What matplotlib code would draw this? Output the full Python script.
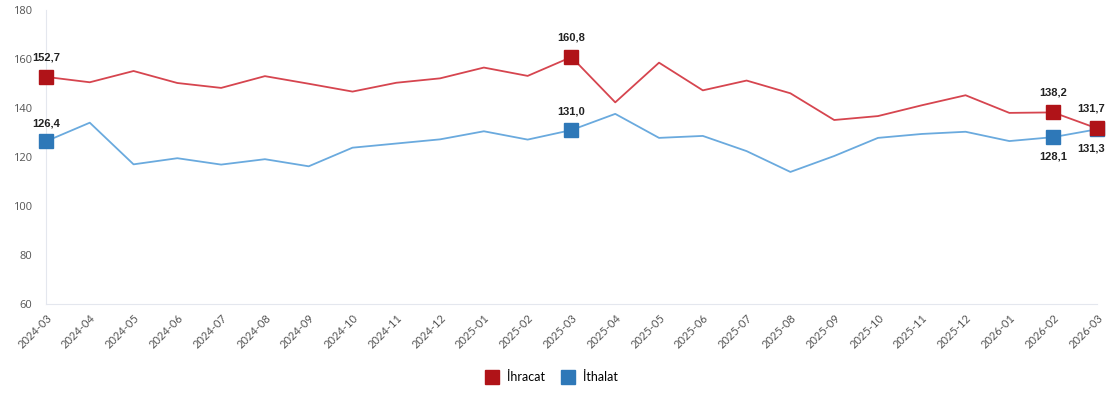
import matplotlib.pyplot as plt
import numpy as np

months = ['2024-03', '2024-04', '2024-05', '2024-06', '2024-07', '2024-08', '2024-09',
          '2024-10', '2024-11', '2024-12', '2025-01', '2025-02', '2025-03', '2025-04',
          '2025-05', '2025-06', '2025-07', '2025-08', '2025-09', '2025-10', '2025-11',
          '2025-12', '2026-01', '2026-02', '2026-03']
ihracat = [152.7, 150.5, 155.1, 150.2, 148.2, 153.0, 149.9, 146.7, 150.3, 152.1,
           156.5, 153.1, 160.8, 142.3, 158.5, 147.2, 151.2, 146.0, 135.1, 136.7,
           141.1, 145.2, 138.0, 138.2, 131.7]
ithalat = [126.4, 134.0, 117.0, 119.5, 116.9, 119.1, 116.2, 123.8, 125.5, 127.2,
           130.5, 127.1, 131.0, 137.6, 127.8, 128.6, 122.4, 113.9, 120.4, 127.8,
           129.4, 130.3, 126.5, 128.1, 131.3]
# points that get a marker and a value label
marked = [0, 12, 23, 24]

red_line, red_mark = '#d6454f', '#b01318'
blue_line, blue_mark = '#6aaade', '#2e78b8'

fig = plt.figure(figsize=(11.08, 3.95), dpi=100)
ax = fig.add_axes([0.0415, 0.2304, 0.9485, 0.7443])
x = np.arange(len(months))

ax.plot(x, ithalat, color=blue_line, lw=1.3, zorder=2)
ax.plot(x, ihracat, color=red_line, lw=1.3, zorder=2)
ax.plot(x[marked], np.array(ithalat)[marked], ls='none', marker='s', ms=9.5,
        color=blue_mark, zorder=3, clip_on=False)
ax.plot(x[marked], np.array(ihracat)[marked], ls='none', marker='s', ms=9.5,
        color=red_mark, zorder=4, clip_on=False)

def fmt(v):
    return f'{v:.1f}'.replace('.', ',')

for i in marked:
    dx = -4 if i == 24 else 0
    ax.annotate(fmt(ihracat[i]), (x[i], ihracat[i]), xytext=(dx, 14), textcoords='offset points',
                ha='center', va='center', fontsize=8, fontweight='bold', color='#222222',
                family='Liberation Sans', annotation_clip=False)
    below = i in (23, 24)
    ax.annotate(fmt(ithalat[i]), (x[i], ithalat[i]), xytext=(dx, -14 if below else 13),
                textcoords='offset points', ha='center', va='center', fontsize=8,
                fontweight='bold', color='#222222', family='Liberation Sans',
                annotation_clip=False)

ax.set_xlim(0, len(months) - 1)
ax.set_ylim(60, 180)
ax.set_yticks(range(60, 181, 20))
ax.set_xticks(x)
ax.set_xticklabels(months, rotation=45, ha='right', rotation_mode='anchor',
                   fontsize=8, color='#555555', family='Lato')
ax.tick_params(axis='y', labelsize=8, labelcolor='#555555', length=0, pad=10)
ax.tick_params(axis='x', length=0, pad=6)
for lab in ax.get_yticklabels():
    lab.set_family('Open Sans')

for side in ('top', 'right'):
    ax.spines[side].set_visible(False)
ax.spines['left'].set_color('#e4e7ee')
ax.spines['bottom'].set_color('#e4e7ee')

handles = [plt.Line2D([], [], ls='none', marker='s', ms=10, color=red_mark),
           plt.Line2D([], [], ls='none', marker='s', ms=10, color=blue_mark)]
fig.legend(handles, ['İhracat', 'İthalat'], loc='center', bbox_to_anchor=(0.495, 0.045),
           ncol=2, frameon=False, handletextpad=0.2, columnspacing=0.8,
           prop={'family': 'Lato', 'size': 9})

fig.savefig('out.png', dpi=100)
